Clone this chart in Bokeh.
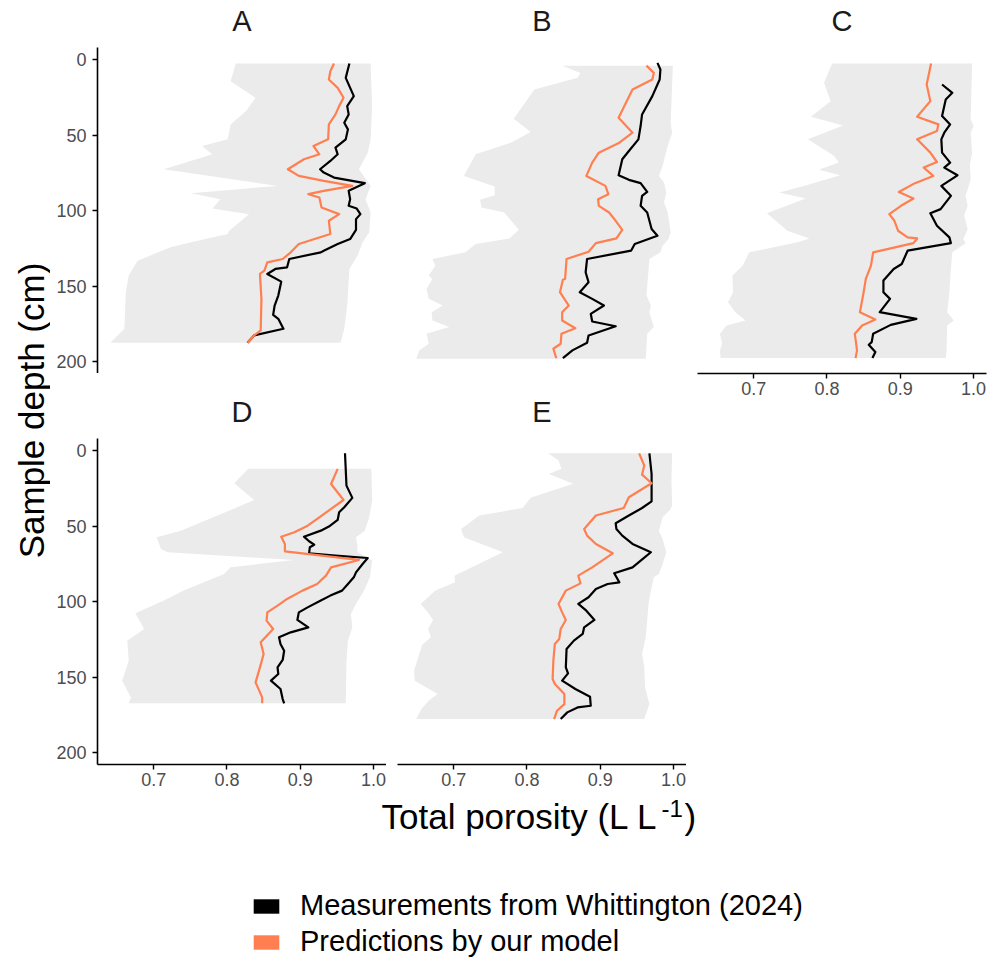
from bokeh.plotting import figure
from bokeh.models import Range1d, FixedTicker, Label, Legend, LegendItem
from bokeh.layouts import row, column
from bokeh.embed import file_html
from bokeh.resources import INLINE

# ---------------- data ----------------
panel_names = ["A", "B", "C", "D", "E"]
x_ticks = [0.7, 0.8, 0.9, 1.0]
x_tick_labels = ["0.7", "0.8", "0.9", "1.0"]
y_ticks = [0, 50, 100, 150, 200]
y_tick_labels = ["0", "50", "100", "150", "200"]
series_names = ["Measurements from Whittington (2024)", "Predictions by our model"]
x_title = "Total porosity (L L"
x_title_sup = "-1"
y_title = "Sample depth (cm)"

# Panel A
A_meas_depth = [2.6, 12.1, 24.2, 30.8, 36.3, 41.8, 46.2, 52.8, 58.3, 62.7, 67.1, 72.6, 74.8, 78.1, 81.8, 86.9, 92.4, 96.8, 98.6, 102.3, 105.6, 112.7, 118.8, 122.1, 126.5, 127.6, 132.0, 137.5, 138.6, 141.9, 147.0, 156.2, 162.8, 169.0, 171.6, 178.2, 182.6, 187.5]
A_meas = [0.967, 0.962, 0.973, 0.964, 0.966, 0.960, 0.965, 0.962, 0.948, 0.951, 0.941, 0.927, 0.932, 0.946, 0.988, 0.966, 0.968, 0.966, 0.977, 0.982, 0.976, 0.976, 0.968, 0.951, 0.932, 0.928, 0.885, 0.882, 0.866, 0.855, 0.874, 0.870, 0.865, 0.863, 0.870, 0.877, 0.837, 0.828]
A_pred_depth = [2.6, 7.7, 13.2, 18.7, 25.3, 30.8, 36.3, 42.9, 52.8, 57.2, 62.7, 66.0, 72.6, 77.0, 80.3, 83.6, 86.9, 89.1, 91.3, 97.9, 102.3, 106.7, 115.5, 122.1, 127.6, 132.0, 134.2, 139.7, 141.9, 158.4, 179.3, 182.6, 187.5]
A_pred = [0.946, 0.941, 0.939, 0.951, 0.959, 0.953, 0.948, 0.939, 0.938, 0.918, 0.926, 0.905, 0.883, 0.898, 0.932, 0.971, 0.932, 0.911, 0.926, 0.929, 0.953, 0.939, 0.941, 0.898, 0.887, 0.876, 0.855, 0.851, 0.845, 0.847, 0.846, 0.837, 0.828]
A_lo_depth = [2.6, 14.3, 25.3, 34.1, 42.9, 52.8, 57.2, 62.7, 72.6, 83.6, 88.4, 92.4, 98.6, 102.3, 113.3, 115.5, 121.0, 124.3, 133.1, 143.0, 154.0, 178.2, 187.5]
A_lo = [0.812, 0.805, 0.839, 0.826, 0.805, 0.801, 0.766, 0.780, 0.714, 0.869, 0.751, 0.791, 0.780, 0.830, 0.803, 0.801, 0.751, 0.723, 0.678, 0.666, 0.662, 0.660, 0.641]
A_hi_depth = [2.6, 30.8, 52.8, 61.6, 72.6, 83.6, 92.4, 101.2, 114.4, 121.0, 129.8, 138.6, 162.8, 178.2, 187.5]
A_hi = [0.996, 0.998, 0.996, 0.992, 0.980, 0.996, 0.989, 0.996, 0.994, 0.985, 0.978, 0.967, 0.964, 0.960, 0.955]

# Panel B
B_meas_depth = [2.2, 6.6, 13.2, 24.2, 36.3, 44.0, 52.8, 60.5, 66.0, 76.6, 79.6, 81.8, 87.6, 90.2, 96.8, 101.2, 112.2, 116.6, 122.1, 126.5, 132.0, 140.8, 147.4, 154.0, 158.4, 162.8, 168.3, 173.4, 176.5, 182.6, 187.5, 192.5, 197.6]
B_meas = [0.978, 0.982, 0.981, 0.971, 0.957, 0.955, 0.952, 0.939, 0.930, 0.925, 0.939, 0.955, 0.964, 0.957, 0.955, 0.964, 0.970, 0.978, 0.947, 0.942, 0.882, 0.880, 0.884, 0.872, 0.889, 0.905, 0.887, 0.889, 0.921, 0.884, 0.882, 0.862, 0.849]
B_pred_depth = [4.0, 8.8, 13.2, 19.8, 28.6, 38.5, 48.4, 55.0, 61.6, 68.2, 77.0, 83.6, 89.1, 92.4, 96.8, 101.2, 106.7, 112.7, 118.4, 121.5, 127.2, 132.0, 145.2, 145.7, 154.0, 162.8, 167.2, 172.7, 177.8, 181.5, 188.1, 191.4, 197.6]
B_pred = [0.963, 0.973, 0.971, 0.944, 0.935, 0.925, 0.944, 0.926, 0.898, 0.889, 0.881, 0.907, 0.911, 0.897, 0.898, 0.912, 0.921, 0.930, 0.922, 0.894, 0.884, 0.854, 0.852, 0.849, 0.845, 0.857, 0.848, 0.848, 0.866, 0.847, 0.846, 0.836, 0.840]
B_lo_depth = [4.0, 8.8, 12.1, 19.8, 39.2, 48.0, 55.0, 62.7, 77.0, 84.0, 89.8, 92.8, 97.9, 101.2, 112.7, 118.4, 122.1, 127.6, 132.0, 136.4, 143.0, 145.2, 151.8, 158.4, 162.8, 167.2, 172.7, 177.1, 181.5, 188.1, 192.5, 198.0]
B_lo = [0.848, 0.873, 0.869, 0.810, 0.782, 0.805, 0.778, 0.730, 0.714, 0.756, 0.756, 0.736, 0.738, 0.769, 0.789, 0.776, 0.730, 0.716, 0.671, 0.675, 0.666, 0.671, 0.663, 0.666, 0.685, 0.670, 0.671, 0.694, 0.663, 0.666, 0.653, 0.649]
B_hi_depth = [4.0, 41.8, 48.4, 57.2, 70.4, 77.0, 81.4, 88.0, 94.6, 101.2, 114.4, 118.8, 123.2, 127.6, 132.0, 156.2, 162.8, 167.2, 177.1, 181.5, 198.0]
B_hi = [0.999, 0.996, 0.998, 0.992, 0.985, 0.980, 0.987, 0.990, 0.987, 0.992, 0.996, 0.993, 0.985, 0.982, 0.967, 0.963, 0.969, 0.967, 0.973, 0.964, 0.962]

# Panel C
C_meas_depth = [16.5, 22.0, 26.4, 37.4, 42.9, 48.4, 52.8, 61.6, 68.2, 71.5, 76.6, 83.6, 90.2, 99.0, 101.7, 110.0, 117.7, 121.5, 126.5, 132.0, 135.3, 138.6, 146.3, 154.0, 158.4, 167.2, 171.6, 175.6, 181.5, 187.0, 188.8, 193.6, 197.6]
C_meas = [0.957, 0.971, 0.962, 0.957, 0.968, 0.960, 0.956, 0.957, 0.968, 0.960, 0.978, 0.956, 0.969, 0.955, 0.941, 0.950, 0.967, 0.969, 0.910, 0.905, 0.902, 0.891, 0.877, 0.877, 0.886, 0.872, 0.922, 0.887, 0.863, 0.861, 0.857, 0.866, 0.862]
C_pred_depth = [2.6, 16.5, 27.5, 37.8, 42.9, 47.3, 52.8, 61.6, 67.8, 71.5, 77.0, 81.8, 87.6, 92.0, 96.8, 102.3, 106.7, 113.3, 117.7, 118.4, 121.5, 127.6, 136.4, 145.2, 154.0, 167.2, 172.1, 176.0, 181.5, 192.5, 197.6]
C_pred = [0.942, 0.936, 0.941, 0.923, 0.952, 0.950, 0.923, 0.941, 0.950, 0.932, 0.945, 0.920, 0.898, 0.918, 0.901, 0.885, 0.892, 0.897, 0.910, 0.923, 0.918, 0.863, 0.860, 0.853, 0.850, 0.845, 0.866, 0.848, 0.838, 0.841, 0.839]
C_lo_depth = [2.6, 15.4, 27.5, 37.8, 43.6, 52.8, 63.8, 68.2, 73.0, 76.6, 83.2, 88.0, 92.0, 101.7, 113.3, 118.4, 121.0, 127.6, 136.4, 143.0, 154.0, 160.6, 167.2, 172.7, 176.0, 181.5, 188.1, 192.5, 197.6]
C_lo = [0.807, 0.796, 0.805, 0.778, 0.822, 0.774, 0.810, 0.816, 0.789, 0.818, 0.772, 0.735, 0.771, 0.718, 0.746, 0.776, 0.760, 0.694, 0.685, 0.671, 0.672, 0.665, 0.675, 0.689, 0.663, 0.654, 0.657, 0.654, 0.655]
C_hi_depth = [2.6, 39.6, 44.0, 48.4, 61.6, 69.3, 79.2, 85.8, 90.2, 96.8, 103.4, 112.2, 118.8, 121.5, 127.6, 138.6, 154.0, 167.2, 172.7, 176.0, 193.6, 197.6]
C_hi = [0.998, 0.996, 1.000, 0.996, 0.998, 0.995, 0.996, 0.992, 0.989, 0.992, 0.987, 0.992, 0.986, 0.989, 0.971, 0.969, 0.967, 0.964, 0.973, 0.964, 0.963, 0.962]

# Panel D
D_meas_depth = [1.8, 23.2, 31.3, 37.5, 40.8, 45.9, 50.3, 53.0, 57.0, 60.0, 62.3, 64.0, 68.0, 69.5, 71.1, 75.1, 80.6, 83.9, 88.3, 92.7, 96.0, 99.3, 103.8, 107.1, 112.1, 117.0, 120.3, 123.6, 128.0, 132.5, 138.6, 143.5, 147.9, 152.3, 157.8, 164.5, 167.3]
D_meas = [0.961, 0.963, 0.971, 0.960, 0.953, 0.951, 0.939, 0.928, 0.905, 0.912, 0.919, 0.913, 0.912, 0.948, 0.992, 0.985, 0.976, 0.973, 0.965, 0.957, 0.941, 0.928, 0.910, 0.898, 0.896, 0.911, 0.887, 0.871, 0.873, 0.878, 0.876, 0.869, 0.870, 0.860, 0.873, 0.876, 0.878]
D_pred_depth = [12.1, 22.1, 32.7, 38.6, 44.2, 49.7, 54.1, 57.0, 61.8, 66.7, 72.4, 77.3, 82.8, 88.3, 92.7, 98.2, 102.6, 107.1, 112.6, 118.1, 126.9, 134.7, 143.5, 153.4, 158.9, 163.4, 167.3]
D_pred = [0.951, 0.942, 0.959, 0.942, 0.926, 0.910, 0.892, 0.874, 0.879, 0.879, 0.980, 0.942, 0.935, 0.923, 0.903, 0.882, 0.869, 0.855, 0.854, 0.863, 0.846, 0.850, 0.845, 0.839, 0.844, 0.848, 0.848]
D_lo_depth = [12.1, 21.6, 32.7, 39.3, 53.0, 57.4, 65.1, 67.3, 72.4, 77.3, 81.7, 92.7, 99.3, 107.7, 113.7, 118.1, 125.8, 139.1, 152.3, 163.4, 167.3]
D_lo = [0.829, 0.810, 0.837, 0.805, 0.737, 0.704, 0.710, 0.719, 0.891, 0.805, 0.796, 0.741, 0.714, 0.675, 0.682, 0.687, 0.664, 0.666, 0.657, 0.669, 0.666]
D_hi_depth = [12.1, 33.1, 44.2, 53.0, 57.4, 62.9, 67.3, 72.8, 83.9, 92.7, 101.5, 108.2, 117.0, 125.8, 139.1, 167.3]
D_hi = [0.997, 0.998, 0.994, 0.988, 0.976, 0.978, 0.978, 0.998, 0.995, 0.987, 0.976, 0.969, 0.971, 0.965, 0.963, 0.962]

# Panel E
E_meas_depth = [1.8, 15.5, 33.6, 38.0, 43.0, 48.1, 51.9, 56.3, 61.8, 67.3, 71.7, 77.3, 81.2, 87.2, 88.3, 91.6, 97.1, 101.5, 106.0, 112.1, 117.0, 121.4, 125.8, 131.3, 143.5, 147.5, 152.3, 157.8, 162.9, 168.9, 170.0, 173.3, 177.7]
E_meas = [0.967, 0.970, 0.970, 0.957, 0.939, 0.921, 0.922, 0.930, 0.944, 0.969, 0.958, 0.944, 0.919, 0.926, 0.910, 0.894, 0.884, 0.870, 0.881, 0.892, 0.878, 0.876, 0.864, 0.854, 0.853, 0.856, 0.848, 0.866, 0.886, 0.887, 0.869, 0.855, 0.846]
E_pred_depth = [1.8, 9.9, 15.9, 21.6, 30.9, 38.0, 43.0, 51.9, 56.3, 61.8, 68.0, 77.3, 82.8, 87.9, 92.7, 101.5, 107.1, 112.1, 118.1, 124.7, 128.0, 139.1, 151.2, 154.5, 161.1, 167.8, 172.2, 177.7]
E_pred = [0.953, 0.960, 0.957, 0.970, 0.939, 0.932, 0.894, 0.878, 0.882, 0.894, 0.917, 0.889, 0.870, 0.873, 0.853, 0.843, 0.848, 0.853, 0.846, 0.844, 0.838, 0.836, 0.835, 0.838, 0.851, 0.851, 0.841, 0.837]
E_lo_depth = [1.8, 6.6, 12.1, 15.5, 21.9, 31.3, 38.0, 43.0, 51.9, 57.4, 67.3, 82.8, 87.2, 92.7, 101.5, 107.1, 112.1, 118.1, 123.6, 128.5, 134.7, 145.7, 152.3, 161.1, 165.6, 171.1, 177.7]
E_lo = [0.829, 0.843, 0.847, 0.830, 0.863, 0.805, 0.794, 0.735, 0.710, 0.714, 0.767, 0.701, 0.702, 0.675, 0.655, 0.665, 0.672, 0.665, 0.669, 0.657, 0.653, 0.646, 0.647, 0.678, 0.666, 0.656, 0.649]
E_hi_depth = [1.8, 19.9, 36.4, 39.3, 44.2, 53.0, 58.6, 67.3, 75.1, 81.7, 83.9, 88.3, 100.4, 112.6, 123.6, 134.7, 143.5, 156.7, 167.8, 177.7]
E_hi = [0.998, 0.997, 0.998, 0.995, 0.985, 0.980, 0.985, 0.990, 0.985, 0.980, 0.973, 0.971, 0.966, 0.964, 0.962, 0.957, 0.960, 0.961, 0.967, 0.960]

# ---------------- styling ----------------
FONT = "Liberation Sans"
MEAS_COLOR = "black"
PRED_COLOR = "#FF7F50"
RIBBON_COLOR = "#EBEBEB"
TICK_COLOR = "#4D4D4D"
X_MIN, X_MAX = 0.6234, 1.0176
Y_TOP, Y_BOTTOM = -8.0, 207.8
NAN = float("nan")

panel_data = {
    "A": (A_meas_depth, A_meas, A_pred_depth, A_pred, A_lo_depth, A_lo, A_hi_depth, A_hi),
    "B": (B_meas_depth, B_meas, B_pred_depth, B_pred, B_lo_depth, B_lo, B_hi_depth, B_hi),
    "C": (C_meas_depth, C_meas, C_pred_depth, C_pred, C_lo_depth, C_lo, C_hi_depth, C_hi),
    "D": (D_meas_depth, D_meas, D_pred_depth, D_pred, D_lo_depth, D_lo, D_hi_depth, D_hi),
    "E": (E_meas_depth, E_meas, E_pred_depth, E_pred, E_lo_depth, E_lo, E_hi_depth, E_hi),
}


def blank_fig(width, height, x_range, y_range, bl=0, br=0, bt=0, bb=0):
    f = figure(width=width, height=height, output_backend="svg", toolbar_location=None,
               title=None, x_range=x_range, y_range=y_range,
               x_axis_location=None, y_axis_location=None,
               min_border_left=bl, min_border_right=br, min_border_top=bt, min_border_bottom=bb)
    f.outline_line_color = None
    f.grid.visible = False
    f.background_fill_color = "white"
    f.border_fill_color = "white"
    return f


def style_axis(ax):
    ax.axis_line_color = "black"
    ax.axis_line_width = 1.6
    ax.major_tick_line_color = "black"
    ax.major_tick_line_width = 1.4
    ax.major_tick_in = 0
    ax.major_tick_out = 5
    ax.minor_tick_line_color = None
    ax.major_label_text_font = FONT
    ax.major_label_text_font_size = "18px"
    ax.major_label_text_color = TICK_COLOR


def make_panel(name, show_x, show_y, width, height, bl, br, bb):
    md, mv, pd_, pv, ld, lv, hd, hv = panel_data[name]
    p = figure(width=width, height=height, output_backend="svg", toolbar_location=None,
               title=None, x_range=Range1d(X_MIN, X_MAX), y_range=Range1d(Y_BOTTOM, Y_TOP),
               x_axis_location="below" if show_x else None,
               y_axis_location="left" if show_y else None,
               min_border_left=bl, min_border_right=br,
               min_border_top=0, min_border_bottom=bb)
    p.outline_line_color = None
    p.grid.visible = False
    p.background_fill_color = "white"
    p.border_fill_color = "white"

    ribbon_x = list(lv) + list(hv)[::-1]
    ribbon_y = list(ld) + list(hd)[::-1]
    p.patch(ribbon_x, ribbon_y, fill_color=RIBBON_COLOR, line_color=None)
    p.line(mv, md, line_color=MEAS_COLOR, line_width=2.2, line_join="round")
    p.line(pv, pd_, line_color=PRED_COLOR, line_width=2.2, line_join="round")

    if show_x:
        p.xaxis.ticker = FixedTicker(ticks=x_ticks)
        p.xaxis.major_label_overrides = dict(zip(x_ticks, x_tick_labels))
        p.xaxis.major_label_standoff = 3
        style_axis(p.xaxis[0])
    if show_y:
        p.yaxis.ticker = FixedTicker(ticks=y_ticks)
        p.yaxis.major_label_overrides = dict(zip(y_ticks, y_tick_labels))
        p.yaxis.major_label_standoff = 6
        style_axis(p.yaxis[0])
    return p


def make_strip(panel, name, width, bl, br, top, bottom_, baseline):
    s = blank_fig(width, bottom_ - top, panel.x_range, Range1d(bottom_, top), bl=bl, br=br)
    s.add_layout(Label(x=(X_MIN + X_MAX) / 2, y=baseline, text=name,
                       text_align="center", text_baseline="alphabetic",
                       text_font=FONT, text_font_size="29px", text_color="#1A1A1A"))
    return s


# panels: frames at x = 97..386, 397..686, 697..986 ; y = 47..373 and 438..764
pA = make_panel("A", False, True, 336, 326, 47, 0, 0)
pB = make_panel("B", False, False, 300, 326, 11, 0, 0)
pC = make_panel("C", True, False, 303, 358, 11, 3, 32)
pD = make_panel("D", True, True, 336, 355, 47, 0, 29)
pE = make_panel("E", True, False, 300, 355, 11, 0, 29)

sA = make_strip(pA, "A", 336, 47, 0, 0, 47, 20)
sB = make_strip(pB, "B", 300, 11, 0, 0, 47, 20)
sC = make_strip(pC, "C", 303, 11, 3, 0, 47, 20)
sD = make_strip(pD, "D", 336, 47, 0, 373, 438, 411)
sE = make_strip(pE, "E", 300, 11, 0, 373, 438, 411)

TOP_H = 793  # height of the panel block

# y-axis title strip (data units = page pixels)
ylab = blank_fig(50, TOP_H, Range1d(0, 50), Range1d(TOP_H, 0))
ylab.add_layout(Label(x=31, y=410, text=y_title, angle=90, angle_units="deg",
                      text_align="center", text_baseline="alphabetic",
                      text_font=FONT, text_font_size="35px", text_color="black"))

# bottom strip: x-axis title and legend (data units = page pixels)
bottom = blank_fig(989, 958 - TOP_H, Range1d(0, 989), Range1d(958, TOP_H))
bottom.add_layout(Label(x=381, y=816, text=x_title, text_align="left", text_baseline="alphabetic",
                        text_font=FONT, text_font_size="35px", text_color="black"))
bottom.add_layout(Label(x=661, y=808, text=x_title_sup, text_align="left", text_baseline="alphabetic",
                        text_font=FONT, text_font_size="24px", text_color="black"))
bottom.add_layout(Label(x=684, y=816, text=")", text_align="left", text_baseline="alphabetic",
                        text_font=FONT, text_font_size="35px", text_color="black"))

r_meas = bottom.quad(left=[NAN], right=[NAN], top=[NAN], bottom=[NAN],
                     fill_color=MEAS_COLOR, line_color=None)
r_pred = bottom.quad(left=[NAN], right=[NAN], top=[NAN], bottom=[NAN],
                     fill_color=PRED_COLOR, line_color=None)
legend = Legend(items=[LegendItem(label=series_names[0], renderers=[r_meas]),
                       LegendItem(label=series_names[1], renderers=[r_pred])],
                location=(250, 0), orientation="vertical",
                glyph_width=32, glyph_height=18, label_standoff=18,
                label_text_font=FONT, label_text_font_size="29px", label_text_color="black",
                spacing=3, padding=0, margin=0,
                border_line_color=None, background_fill_alpha=0)
bottom.add_layout(legend)

col1 = column(sA, pA, sD, pD)
col2 = column(sB, pB, sE, pE)
col3 = column(sC, pC)
layout = column(row(ylab, col1, col2, col3), bottom)

open("out.html", "w").write(file_html(layout, INLINE))
